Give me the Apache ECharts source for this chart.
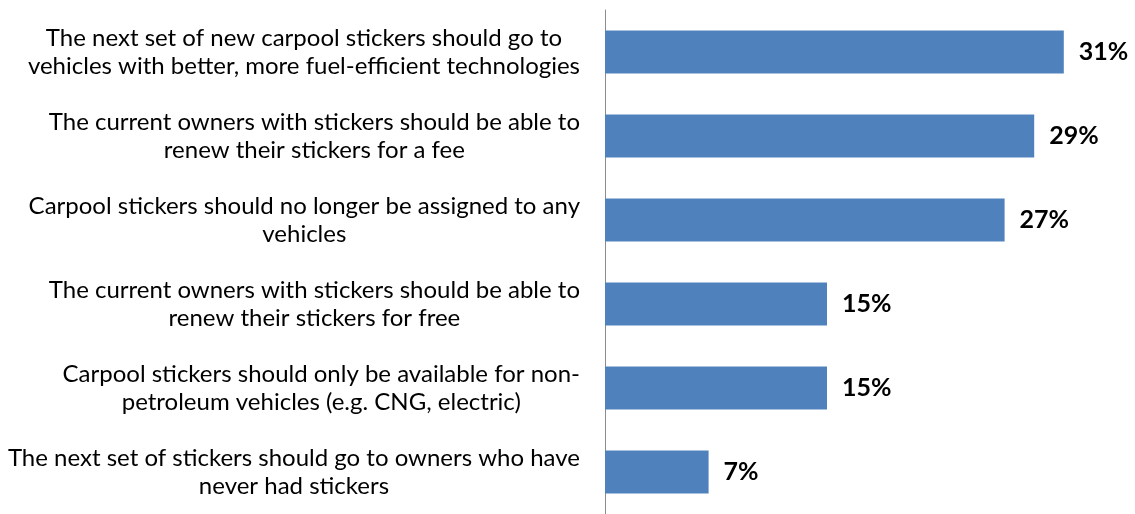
<!DOCTYPE html>
<html>
<head>
<meta charset="utf-8">
<script src="https://cdn.jsdelivr.net/npm/echarts@6/dist/echarts.min.js"></script>
<style>
  html, body { margin: 0; padding: 0; background: #ffffff; }
  #chart { width: 1135px; height: 514px; }
</style>
</head>
<body>
<div id="chart"></div>
<script>
// Survey options, top to bottom, with their line breaks
const categories = [
  'The next set of new carpool stickers should go to\nvehicles with better, more fuel-efficient technologies',
  'The current owners with stickers should be able to\nrenew their stickers for a fee',
  'Carpool stickers should no longer be assigned to any\nvehicles',
  'The current owners with stickers should be able to\nrenew their stickers for free',
  'Carpool stickers should only be available for non-\npetroleum vehicles (e.g. CNG, electric)',
  'The next set of stickers should go to owners who have\nnever had stickers'
];

// Share of respondents (%)
const shares = [31, 29, 27, 15, 15, 7];

const chart = echarts.init(document.getElementById('chart'), null, { renderer: 'canvas' });

chart.setOption({
  animation: false,
  backgroundColor: '#ffffff',
  grid: { left: 605, right: 12, top: 10, height: 512, containLabel: false },
  xAxis: {
    type: 'value',
    min: 0,
    max: 35,
    show: false
  },
  yAxis: {
    type: 'category',
    data: categories,
    inverse: true,
    axisLine: { show: true, lineStyle: { color: '#8c8c8c', width: 1 } },
    axisTick: { show: false },
    splitLine: { show: false },
    axisLabel: {
      margin: 25,
      align: 'right',
      formatter: function (value) {
        return value.split('\n').map(function (line) { return '{c|' + line + '}'; }).join('\n');
      },
      rich: {
        c: {
          align: 'center',
          fontFamily: 'Lato',
          fontSize: 24,
          lineHeight: 28,
          color: '#000000'
        }
      }
    }
  },
  series: [{
    type: 'bar',
    data: shares,
    barWidth: 43,
    itemStyle: { color: '#4f81bd' },
    label: {
      show: true,
      position: 'right',
      distance: 15,
      formatter: '{c}%',
      fontFamily: 'Lato',
      fontWeight: 'bold',
      fontSize: 25,
      color: '#000000'
    }
  }]
});
</script>
</body>
</html>
